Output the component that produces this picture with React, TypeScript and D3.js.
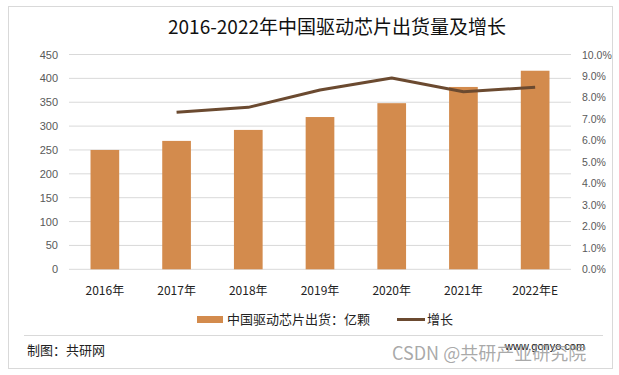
import React from "react";
import * as d3 from "d3";

const categories = ["2016年", "2017年", "2018年", "2019年", "2020年", "2021年", "2022年E"];
const shipments = [250, 269, 292, 319, 348, 382, 416];
const growth: (number | null)[] = [null, 7.31, 7.54, 8.35, 8.91, 8.27, 8.47];
const leftTicks = [0, 50, 100, 150, 200, 250, 300, 350, 400, 450];
const rightTicks = [0, 1, 2, 3, 4, 5, 6, 7, 8, 9, 10];

const W = 619;
const H = 375;
const plot = { left: 69, right: 571, top: 54.5, bottom: 269.3 };
const BAR = "#D38B4D";
const LINE = "#6B4A30";
const CJK = "'Noto Sans CJK SC', 'Noto Sans', sans-serif";
const NUM = "'Liberation Sans', Arial, sans-serif";

export default function App() {
  const x = d3.scaleBand<string>().domain(categories).range([plot.left, plot.right]).paddingInner(0.6).paddingOuter(0.3);
  const yL = d3.scaleLinear().domain([0, 450]).range([plot.bottom, plot.top]);
  const yR = d3.scaleLinear().domain([0, 10]).range([plot.bottom, plot.top]);
  const lineGen = d3
    .line<number | null>()
    .defined((d) => d != null)
    .x((_, i) => (x(categories[i]) as number) + x.bandwidth() / 2)
    .y((d) => yR(d as number));

  return (
    <svg width={W} height={H} style={{ position: "absolute", left: 0, top: 0, background: "#fff" }}>
      <rect x={8.5} y={6.5} width={604} height={362} fill="#fff" stroke="#D9D9D9" />
      <text x={337} y={34} textAnchor="middle" fontFamily={CJK} fontSize={19} fill="#111">
        2016-2022年中国驱动芯片出货量及增长
      </text>
      {leftTicks.map((t) => (
        <g key={"l" + t}>
          <line x1={plot.left} x2={plot.right} y1={yL(t)} y2={yL(t)} stroke="#D9D9D9" strokeWidth={1} />
          <text x={58} y={yL(t) + 4} textAnchor="end" fontFamily={NUM} fontSize={11} fill="#595959">
            {t}
          </text>
        </g>
      ))}
      {rightTicks.map((t) => (
        <text key={"r" + t} x={582} y={yR(t) + 4} fontFamily={NUM} fontSize={10.5} fill="#595959">
          {t.toFixed(1)}%
        </text>
      ))}
      {shipments.map((v, i) => (
        <rect
          key={categories[i]}
          x={x(categories[i])}
          y={yL(v)}
          width={x.bandwidth()}
          height={plot.bottom - yL(v)}
          fill={BAR}
        />
      ))}
      <path d={lineGen(growth) || ""} fill="none" stroke={LINE} strokeWidth={3} strokeLinejoin="round" />
      {categories.map((c) => (
        <text
          key={"x" + c}
          x={(x(c) as number) + x.bandwidth() / 2}
          y={295}
          textAnchor="middle"
          fontFamily={CJK}
          fontSize={12}
          fill="#222"
        >
          {c}
        </text>
      ))}
      <rect x={197} y={316} width={26} height={7} fill={BAR} />
      <text x={227} y={324} fontFamily={CJK} fontSize={13} fill="#222">
        中国驱动芯片出货：亿颗
      </text>
      <line x1={397} x2={425} y1={319.5} y2={319.5} stroke={LINE} strokeWidth={3} />
      <text x={427} y={324} fontFamily={CJK} fontSize={13} fill="#222">
        增长
      </text>
      <line x1={24} x2={603} y1={335.5} y2={335.5} stroke="#D9D9D9" />
      <text x={27} y={355} fontFamily={CJK} fontSize={13} fill="#222">
        制图：共研网
      </text>
      <text x={505} y={350} fontFamily={NUM} fontSize={11} fill="#111">
        www.gonyo.com
      </text>
      <text x={392} y={360} fontFamily={CJK} fontSize={18} fill="#9a9a9a" fillOpacity={0.85}>
        CSDN @共研产业研究院
      </text>
    </svg>
  );
}
